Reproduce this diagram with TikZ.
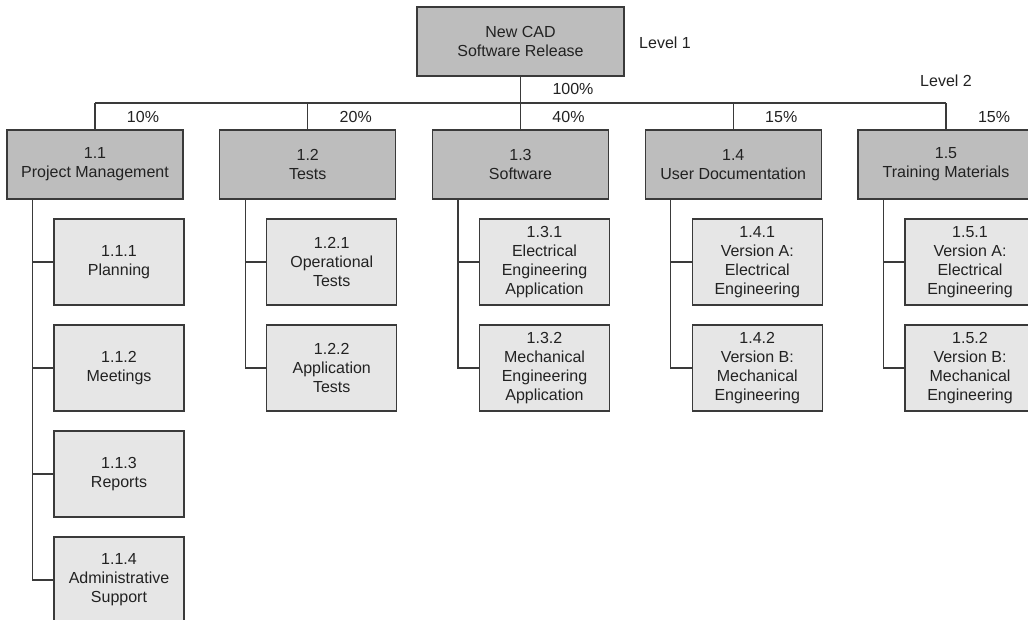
\documentclass[tikz,border=0pt]{standalone}
\usepackage{fontspec}
\setmainfont{Liberation Sans}
\definecolor{boxdark}{HTML}{BDBDBD}
\definecolor{boxlight}{HTML}{E6E6E6}
\definecolor{edge}{HTML}{3A3A3A}
\definecolor{ink}{HTML}{222222}
\begin{document}
\begin{tikzpicture}[x=1pt,y=-1pt,
  every node/.style={font=\fontsize{16}{19}\selectfont, text=ink},
  lvone/.style={draw=edge, line width=1.2pt, fill=boxdark, minimum width=207pt, minimum height=69pt, inner sep=0pt, align=center},
  lvtwo/.style={draw=edge, line width=1.2pt, fill=boxdark, minimum width=176pt, minimum height=69pt, inner sep=0pt, align=center},
  lvthree/.style={draw=edge, line width=1.2pt, fill=boxlight, minimum width=130pt, minimum height=86pt, inner sep=0pt, align=center},
  link/.style={draw=edge, line width=1.2pt},
  pct/.style={inner sep=0pt}]
\clip (0,0) rectangle (1028,619);
\fill[white] (0,0) rectangle (1028,619);

% top level
\node[lvone] (top) at (520.5,41.5) {New CAD\\Software Release};
\node[pct] (lvlA) at (665,43) {Level 1};
\node[pct] (lvlB) at (946,81) {Level 2};

% second level
\node[lvtwo] (n11) at (95,164.5)    {1.1\\Project Management};
\node[lvtwo] (n12) at (307.75,164.5) {1.2\\Tests};
\node[lvtwo] (n13) at (520.5,164.5)  {1.3\\Software};
\node[lvtwo] (n14) at (733.25,164.5) {1.4\\User Documentation};
\node[lvtwo] (n15) at (946,164.5)    {1.5\\Training Materials};

% bus between levels
\coordinate (bus) at (0,103);
\draw[link] (top.south) -- (top.south |- bus);
\draw[link] (n11.north |- bus) -- (n15.north |- bus);
\foreach \n in {n11,n12,n13,n14,n15}
  \draw[link] (\n.north) -- (\n.north |- bus);

% weights
\node[pct] (p0) at (573,89) {100\%};
\node[pct] (p1) at (143,117) {10\%};
\node[pct] (p2) at (355.75,117) {20\%};
\node[pct] (p3) at (568.5,117) {40\%};
\node[pct] (p4) at (781.25,117) {15\%};
\node[pct] (p5) at (994,117) {15\%};

% third level
\node[lvthree] (n111) at (119,262) {1.1.1\\Planning};
\node[lvthree] (n112) at (119,368) {1.1.2\\Meetings};
\node[lvthree] (n113) at (119,474) {1.1.3\\Reports};
\node[lvthree] (n114) at (119,580) {1.1.4\\Administrative\\Support};

\node[lvthree] (n121) at (331.75,262) {1.2.1\\Operational\\Tests};
\node[lvthree] (n122) at (331.75,368) {1.2.2\\Application\\Tests};

\node[lvthree] (n131) at (544.5,262) {1.3.1\\Electrical\\Engineering\\Application};
\node[lvthree] (n132) at (544.5,368) {1.3.2\\Mechanical\\Engineering\\Application};

\node[lvthree] (n141) at (757.25,262) {1.4.1\\Version A:\\Electrical\\Engineering};
\node[lvthree] (n142) at (757.25,368) {1.4.2\\Version B:\\Mechanical\\Engineering};

\node[lvthree] (n151) at (970,262) {1.5.1\\Version A:\\Electrical\\Engineering};
\node[lvthree] (n152) at (970,368) {1.5.2\\Version B:\\Mechanical\\Engineering};

% spines to third level
\foreach \p/\c in {n11/n111,n11/n112,n11/n113,n11/n114,n12/n121,n12/n122,n13/n131,n13/n132,n14/n141,n14/n142,n15/n151,n15/n152}
  \draw[link] ([xshift=26pt]\p.south west) |- (\c.west);
\end{tikzpicture}
\end{document}
